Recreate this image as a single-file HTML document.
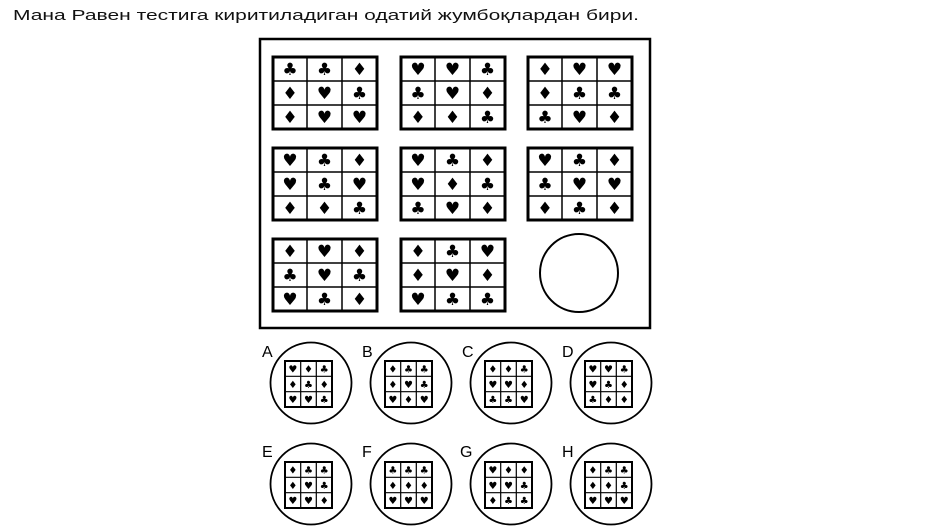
<!DOCTYPE html>
<html><head><meta charset="utf-8"><style>
html,body{margin:0;padding:0;background:#fff;width:925px;height:531px;overflow:hidden}
svg{display:block}
.t{font-family:"Liberation Sans",sans-serif;font-size:15px;fill:#111}
.L{font-family:"Liberation Sans",sans-serif;font-size:16px;fill:#000}
.s{font-family:"DejaVu Sans",sans-serif;font-size:17px;text-anchor:middle;fill:#000}
.m{font-family:"DejaVu Sans",sans-serif;font-size:10px;text-anchor:middle;fill:#000}
.g rect{fill:#fff;stroke:#000;stroke-width:3}
.g path{stroke:#000;stroke-width:1.5;fill:none}
.h rect{fill:#fff;stroke:#000;stroke-width:2}
.h path{stroke:#000;stroke-width:1.2;fill:none}
</style></head><body>
<svg width="925" height="531" viewBox="0 0 925 531">
<text class="t" x="13" y="20" textLength="626" lengthAdjust="spacingAndGlyphs">Мана Равен тестига киритиладиган одатий жумбоқлардан бири.</text>
<rect x="260" y="39" width="390" height="289" fill="none" stroke="#000" stroke-width="2.5"/>

<g class="g" transform="translate(273,57)"><rect width="104" height="72"/><path d="M34 0V72M69 0V72M0 24H104M0 48H104"/>
<text class="s" x="17 51.5 86.5" y="18">♣♣♦</text><text class="s" x="17 51.5 86.5" y="42">♦♥♣</text><text class="s" x="17 51.5 86.5" y="66">♦♥♥</text></g>
<g class="g" transform="translate(401,57)"><rect width="104" height="72"/><path d="M34 0V72M69 0V72M0 24H104M0 48H104"/>
<text class="s" x="17 51.5 86.5" y="18">♥♥♣</text><text class="s" x="17 51.5 86.5" y="42">♣♥♦</text><text class="s" x="17 51.5 86.5" y="66">♦♦♣</text></g>
<g class="g" transform="translate(528,57)"><rect width="104" height="72"/><path d="M34 0V72M69 0V72M0 24H104M0 48H104"/>
<text class="s" x="17 51.5 86.5" y="18">♦♥♥</text><text class="s" x="17 51.5 86.5" y="42">♦♣♣</text><text class="s" x="17 51.5 86.5" y="66">♣♥♦</text></g>

<g class="g" transform="translate(273,148)"><rect width="104" height="72"/><path d="M34 0V72M69 0V72M0 24H104M0 48H104"/>
<text class="s" x="17 51.5 86.5" y="18">♥♣♦</text><text class="s" x="17 51.5 86.5" y="42">♥♣♥</text><text class="s" x="17 51.5 86.5" y="66">♦♦♣</text></g>
<g class="g" transform="translate(401,148)"><rect width="104" height="72"/><path d="M34 0V72M69 0V72M0 24H104M0 48H104"/>
<text class="s" x="17 51.5 86.5" y="18">♥♣♦</text><text class="s" x="17 51.5 86.5" y="42">♥♦♣</text><text class="s" x="17 51.5 86.5" y="66">♣♥♦</text></g>
<g class="g" transform="translate(528,148)"><rect width="104" height="72"/><path d="M34 0V72M69 0V72M0 24H104M0 48H104"/>
<text class="s" x="17 51.5 86.5" y="18">♥♣♦</text><text class="s" x="17 51.5 86.5" y="42">♣♥♥</text><text class="s" x="17 51.5 86.5" y="66">♦♣♦</text></g>

<g class="g" transform="translate(273,239)"><rect width="104" height="72"/><path d="M34 0V72M69 0V72M0 24H104M0 48H104"/>
<text class="s" x="17 51.5 86.5" y="18">♦♥♦</text><text class="s" x="17 51.5 86.5" y="42">♣♥♣</text><text class="s" x="17 51.5 86.5" y="66">♥♣♦</text></g>
<g class="g" transform="translate(401,239)"><rect width="104" height="72"/><path d="M34 0V72M69 0V72M0 24H104M0 48H104"/>
<text class="s" x="17 51.5 86.5" y="18">♦♣♥</text><text class="s" x="17 51.5 86.5" y="42">♦♥♦</text><text class="s" x="17 51.5 86.5" y="66">♥♣♣</text></g>
<circle cx="579" cy="273" r="39" fill="none" stroke="#000" stroke-width="2"/>

<!-- answers row 1 -->
<g transform="translate(311,383)"><circle r="40.5" fill="none" stroke="#000" stroke-width="1.8"/>
<g class="h" transform="translate(-26,-22)"><rect width="47" height="46"/><path d="M15.7 0V46M31.3 0V46M0 15.3H47M0 30.7H47"/>
<text class="m" x="7.8 23.5 39.2" y="11.5">♥♦♣</text><text class="m" x="7.8 23.5 39.2" y="27">♦♣♦</text><text class="m" x="7.8 23.5 39.2" y="42">♥♥♣</text></g></g>
<g transform="translate(411,383)"><circle r="40.5" fill="none" stroke="#000" stroke-width="1.8"/>
<g class="h" transform="translate(-26,-22)"><rect width="47" height="46"/><path d="M15.7 0V46M31.3 0V46M0 15.3H47M0 30.7H47"/>
<text class="m" x="7.8 23.5 39.2" y="11.5">♦♣♣</text><text class="m" x="7.8 23.5 39.2" y="27">♦♥♣</text><text class="m" x="7.8 23.5 39.2" y="42">♥♦♥</text></g></g>
<g transform="translate(511,383)"><circle r="40.5" fill="none" stroke="#000" stroke-width="1.8"/>
<g class="h" transform="translate(-26,-22)"><rect width="47" height="46"/><path d="M15.7 0V46M31.3 0V46M0 15.3H47M0 30.7H47"/>
<text class="m" x="7.8 23.5 39.2" y="11.5">♦♦♣</text><text class="m" x="7.8 23.5 39.2" y="27">♥♥♦</text><text class="m" x="7.8 23.5 39.2" y="42">♣♣♥</text></g></g>
<g transform="translate(611,383)"><circle r="40.5" fill="none" stroke="#000" stroke-width="1.8"/>
<g class="h" transform="translate(-26,-22)"><rect width="47" height="46"/><path d="M15.7 0V46M31.3 0V46M0 15.3H47M0 30.7H47"/>
<text class="m" x="7.8 23.5 39.2" y="11.5">♥♥♣</text><text class="m" x="7.8 23.5 39.2" y="27">♥♣♦</text><text class="m" x="7.8 23.5 39.2" y="42">♣♦♦</text></g></g>

<!-- answers row 2 -->
<g transform="translate(311,484)"><circle r="40.5" fill="none" stroke="#000" stroke-width="1.8"/>
<g class="h" transform="translate(-26,-22)"><rect width="47" height="46"/><path d="M15.7 0V46M31.3 0V46M0 15.3H47M0 30.7H47"/>
<text class="m" x="7.8 23.5 39.2" y="11.5">♦♣♣</text><text class="m" x="7.8 23.5 39.2" y="27">♦♥♣</text><text class="m" x="7.8 23.5 39.2" y="42">♥♥♦</text></g></g>
<g transform="translate(411,484)"><circle r="40.5" fill="none" stroke="#000" stroke-width="1.8"/>
<g class="h" transform="translate(-26,-22)"><rect width="47" height="46"/><path d="M15.7 0V46M31.3 0V46M0 15.3H47M0 30.7H47"/>
<text class="m" x="7.8 23.5 39.2" y="11.5">♣♣♣</text><text class="m" x="7.8 23.5 39.2" y="27">♦♦♦</text><text class="m" x="7.8 23.5 39.2" y="42">♥♥♥</text></g></g>
<g transform="translate(511,484)"><circle r="40.5" fill="none" stroke="#000" stroke-width="1.8"/>
<g class="h" transform="translate(-26,-22)"><rect width="47" height="46"/><path d="M15.7 0V46M31.3 0V46M0 15.3H47M0 30.7H47"/>
<text class="m" x="7.8 23.5 39.2" y="11.5">♥♦♦</text><text class="m" x="7.8 23.5 39.2" y="27">♥♥♣</text><text class="m" x="7.8 23.5 39.2" y="42">♦♣♣</text></g></g>
<g transform="translate(611,484)"><circle r="40.5" fill="none" stroke="#000" stroke-width="1.8"/>
<g class="h" transform="translate(-26,-22)"><rect width="47" height="46"/><path d="M15.7 0V46M31.3 0V46M0 15.3H47M0 30.7H47"/>
<text class="m" x="7.8 23.5 39.2" y="11.5">♦♣♣</text><text class="m" x="7.8 23.5 39.2" y="27">♦♦♣</text><text class="m" x="7.8 23.5 39.2" y="42">♥♥♥</text></g></g>

<rect x="259" y="343" width="17" height="17" fill="#fff"/><text class="L" x="262" y="357">A</text>
<rect x="359" y="343" width="17" height="17" fill="#fff"/><text class="L" x="362" y="357">B</text>
<rect x="459" y="343" width="17" height="17" fill="#fff"/><text class="L" x="462" y="357">C</text>
<rect x="559" y="343" width="17" height="17" fill="#fff"/><text class="L" x="562" y="357">D</text>
<rect x="259" y="443" width="17" height="17" fill="#fff"/><text class="L" x="262" y="457">E</text>
<rect x="359" y="443" width="17" height="17" fill="#fff"/><text class="L" x="362" y="457">F</text>
<rect x="459" y="443" width="17" height="17" fill="#fff"/><text class="L" x="460" y="457">G</text>
<rect x="559" y="443" width="17" height="17" fill="#fff"/><text class="L" x="562" y="457">H</text>
</svg>
</body></html>
